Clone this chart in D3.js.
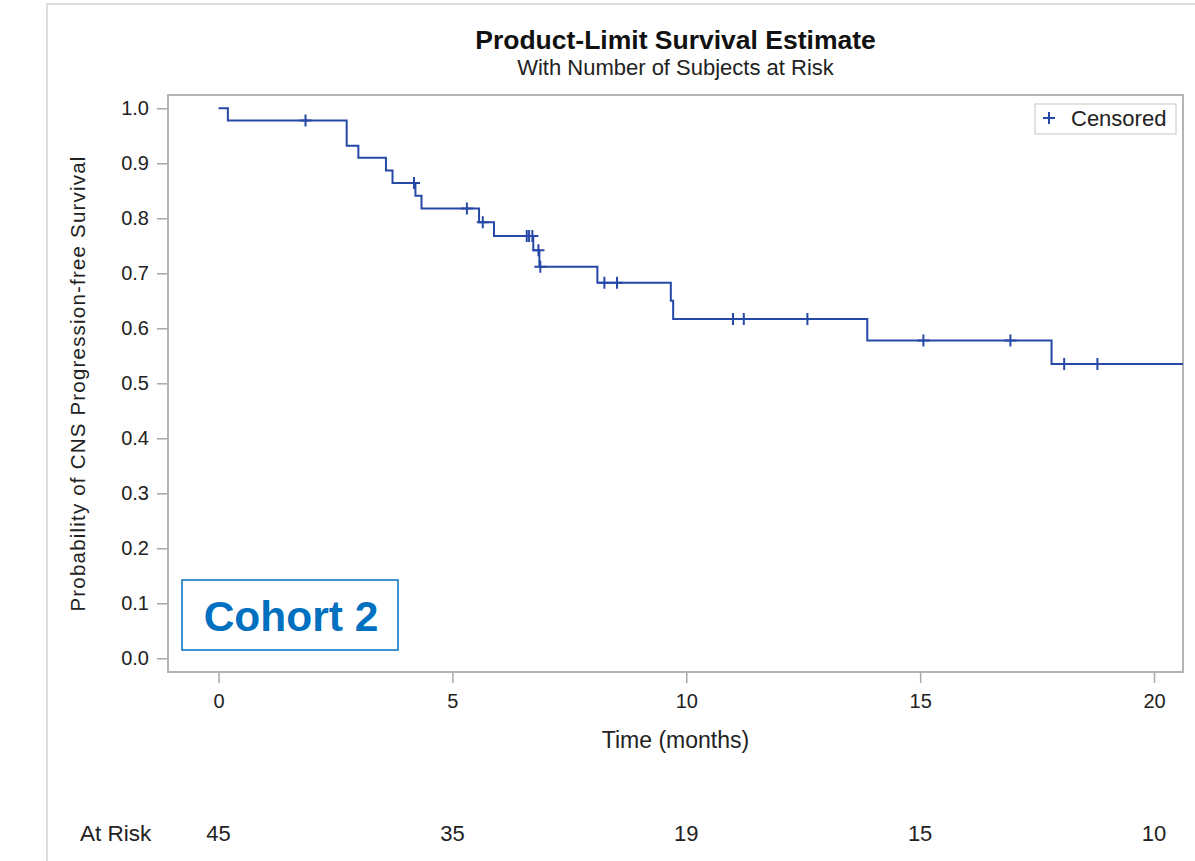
<!DOCTYPE html>
<html>
<head>
<meta charset="utf-8">
<script src="https://cdn.jsdelivr.net/npm/d3@7"></script>
<style>
  html, body { margin: 0; padding: 0; background: #fff; }
  svg { display: block; font-family: "Liberation Sans", Arial, sans-serif; }
</style>
</head>
<body>
<div id="chart"></div>
<script>
// ─── Data ─────────────────────────────────────────────────────────────────────
// Kaplan-Meier steps: time (months) where the curve drops, and the new level
const stepTimes = [0, 0.2, 2.74, 2.99, 3.58, 3.72, 4.21, 4.34, 5.57, 5.89, 6.73, 6.86, 8.10, 9.67, 9.72, 13.87, 17.81]
const stepSurv  = [1.0, 0.978, 0.932, 0.910, 0.887, 0.864, 0.841, 0.818, 0.793, 0.768, 0.742, 0.712, 0.683, 0.650, 0.617, 0.578, 0.535]

// Censored subjects (time in months)
const censorTimes = [1.86, 4.18, 5.31, 5.65, 6.59, 6.64, 6.71, 6.84, 6.88, 8.25, 8.52, 11.0, 11.23, 12.59, 15.07, 16.93, 18.08, 18.79]

// Number at risk row
const riskTimes  = [0, 5, 10, 15, 20]
const riskCounts = [45, 35, 19, 15, 10]

const yTicks = [0, 0.1, 0.2, 0.3, 0.4, 0.5, 0.6, 0.7, 0.8, 0.9, 1.0]

// ─── Layout ───────────────────────────────────────────────────────────────────
const W = 1195, H = 861
const frame = { left: 168, right: 1183, top: 95, bottom: 672 }
const BLUE = '#2648a6'
const FONT = '"Liberation Sans", Arial, sans-serif'

const svg = d3.select('#chart').append('svg')
  .attr('width', W).attr('height', H)

// outer border (only left + top show in the crop)
svg.append('path')
  .attr('d', `M47,${H} V4 H${W}`)
  .attr('fill', 'none').attr('stroke', '#d4d4d4').attr('stroke-width', 1.5)

// ── Scales ──────────────────────────────────────────────────────────────────
const x = d3.scaleLinear().domain([-1.08, 20.62]).range([frame.left, frame.right])
const y = d3.scaleLinear().domain([0, 1]).range([658.3, 108.3])

// ── Titles ──────────────────────────────────────────────────────────────────
const cx = (frame.left + frame.right) / 2
svg.append('text')
  .attr('x', cx).attr('y', 48.5)
  .attr('text-anchor', 'middle')
  .attr('font-size', '26.5px').attr('font-weight', 'bold').attr('fill', '#111')
  .text('Product-Limit Survival Estimate')
svg.append('text')
  .attr('x', cx).attr('y', 75)
  .attr('text-anchor', 'middle')
  .attr('font-size', '22px').attr('fill', '#222')
  .text('With Number of Subjects at Risk')

// ── Frame ───────────────────────────────────────────────────────────────────
svg.append('rect')
  .attr('x', frame.left).attr('y', frame.top)
  .attr('width', frame.right - frame.left).attr('height', frame.bottom - frame.top)
  .attr('fill', '#fff').attr('stroke', '#b4b4b4').attr('stroke-width', 2)

// ── Axes ────────────────────────────────────────────────────────────────────
const yAxis = svg.append('g')
  .attr('transform', `translate(${frame.left - 1},0)`)
  .call(d3.axisLeft(y).tickValues(yTicks).tickFormat(d3.format('.1f')).tickSize(10).tickPadding(8))
yAxis.select('.domain').remove()

const xAxis = svg.append('g')
  .attr('transform', `translate(0,${frame.bottom + 1})`)
  .call(d3.axisBottom(x).tickValues(riskTimes).tickFormat(d3.format('d')).tickSize(10).tickPadding(11))
xAxis.select('.domain').remove()

svg.selectAll('.tick line').attr('stroke', '#a8a8a8').attr('stroke-width', 1.5)
svg.selectAll('.tick text')
  .attr('font-family', FONT).attr('font-size', '20px').attr('fill', '#222')

// axis labels
svg.append('text')
  .attr('x', cx).attr('y', 748)
  .attr('text-anchor', 'middle')
  .attr('font-size', '23px').attr('fill', '#222')
  .text('Time (months)')
svg.append('text')
  .attr('transform', `translate(85,${(frame.top + frame.bottom) / 2}) rotate(-90)`)
  .attr('text-anchor', 'middle')
  .attr('font-size', '20.5px').attr('letter-spacing', '1.2px').attr('fill', '#222')
  .text('Probability of CNS Progression-free Survival')

// ── Survival curve ──────────────────────────────────────────────────────────
const steps = stepTimes.map((t, i) => ({ t, s: stepSurv[i] }))
steps.push({ t: x.domain()[1], s: stepSurv[stepSurv.length - 1] })

const line = d3.line()
  .x(d => x(d.t))
  .y(d => y(d.s))
  .curve(d3.curveStepAfter)

svg.append('path')
  .datum(steps)
  .attr('d', line)
  .attr('fill', 'none')
  .attr('stroke', BLUE)
  .attr('stroke-width', 2)

// censor marks sit on the curve level at their time
const survAt = t => stepSurv[d3.bisectRight(stepTimes, t) - 1]
const plus = 6

svg.append('g')
  .selectAll('path')
  .data(censorTimes)
  .join('path')
  .attr('d', t => {
    const px = x(t), py = y(survAt(t))
    return `M${px - plus},${py} H${px + plus} M${px},${py - plus} V${py + plus}`
  })
  .attr('stroke', BLUE)
  .attr('stroke-width', 2)
  .attr('fill', 'none')

// ── Legend ──────────────────────────────────────────────────────────────────
const lg = svg.append('g')
lg.append('rect')
  .attr('x', 1035).attr('y', 104).attr('width', 141).attr('height', 30)
  .attr('fill', '#fff').attr('stroke', '#cfcfcf').attr('stroke-width', 1.2)
lg.append('path')
  .attr('d', `M${1049 - plus},118 H${1049 + plus} M1049,${118 - plus} V${118 + plus}`)
  .attr('stroke', BLUE).attr('stroke-width', 2)
lg.append('text')
  .attr('x', 1071).attr('y', 126)
  .attr('font-size', '22px').attr('fill', '#222')
  .text('Censored')

// ── Cohort label ────────────────────────────────────────────────────────────
svg.append('rect')
  .attr('x', 182).attr('y', 580).attr('width', 216).attr('height', 70)
  .attr('fill', '#fff').attr('stroke', '#0070c0').attr('stroke-width', 1.5)
svg.append('text')
  .attr('x', 291).attr('y', 631)
  .attr('text-anchor', 'middle')
  .attr('font-size', '42.5px').attr('font-weight', 'bold').attr('fill', '#0070c0')
  .text('Cohort 2')

// ── At-risk row ─────────────────────────────────────────────────────────────
svg.append('text')
  .attr('x', 80).attr('y', 841)
  .attr('font-size', '22.5px').attr('fill', '#222')
  .text('At Risk')

svg.append('g')
  .selectAll('text')
  .data(riskTimes)
  .join('text')
  .attr('x', d => x(d)).attr('y', 841)
  .attr('text-anchor', 'middle')
  .attr('font-size', '22px').attr('fill', '#222')
  .text((d, i) => riskCounts[i])
</script>
</body>
</html>
